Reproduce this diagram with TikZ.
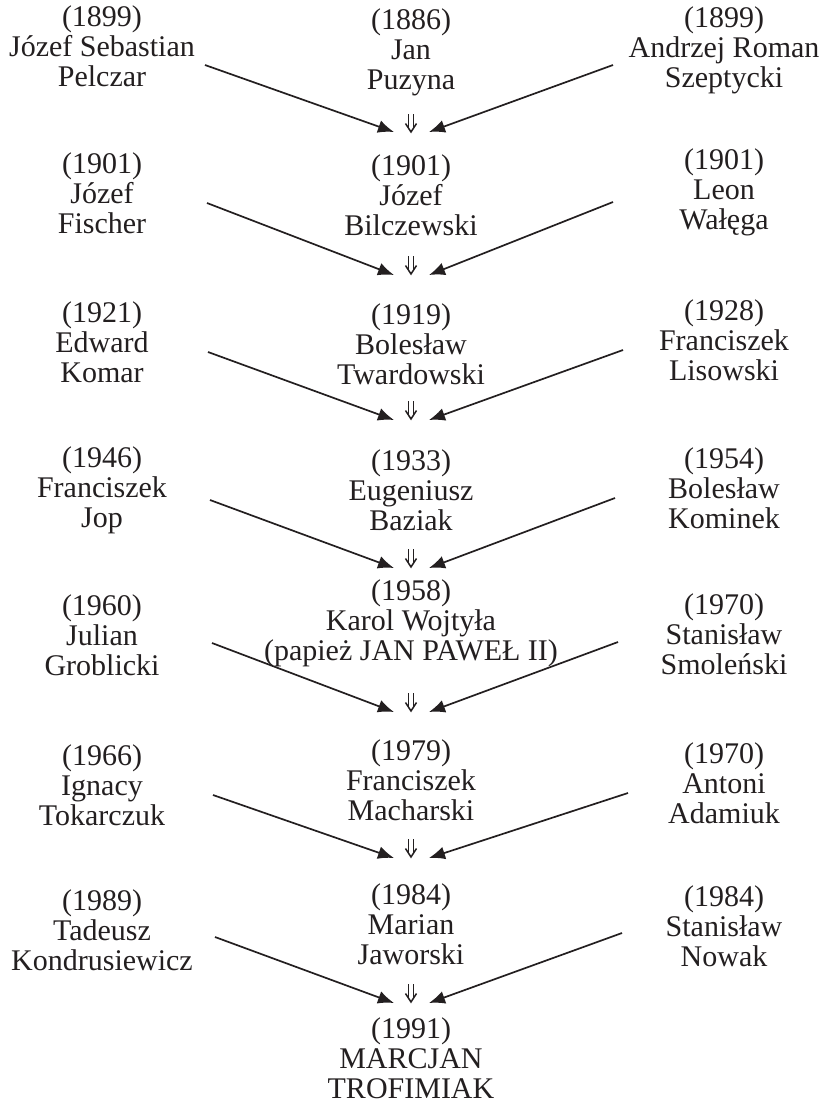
\documentclass[tikz,border=0pt]{standalone}
\usepackage{fontspec}
\setmainfont{Liberation Serif}
\usetikzlibrary{arrows.meta}
\definecolor{ink}{HTML}{231F20}
\begin{document}
\begin{tikzpicture}[x=1pt,y=-1pt,
  person/.style={align=center, inner sep=0pt, text=ink,
    font=\fontsize{30}{30}\selectfont},
  link/.style={draw=ink, line width=1.7pt,
    -{Latex[length=16pt,width=13pt]}},
  % a small double arrow pointing down
  succ/.pic={
    \draw[ink, line width=1.3pt] (-2.2,-9) -- (-2.2,5.5) (2.2,-9) -- (2.2,5.5);
    \draw[ink, line width=1.5pt, line join=miter] (-5.5,0.5) -- (0,9) -- (5.5,0.5);
  }]
\useasboundingbox (0,0) rectangle (823,1104);

% centre column: the succession
\node[person] (c1) at (411,52)   {(1886)\\Jan\\Puzyna};
\node[person] (c2) at (411,195)  {(1901)\\Józef\\Bilczewski};
\node[person] (c3) at (411,344)  {(1919)\\Bolesław\\Twardowski};
\node[person] (c4) at (411,490)  {(1933)\\Eugeniusz\\Baziak};
\node[person] (c5) at (411,623)  {(1958)\\Karol Wojtyła\\(papież JAN PAWEŁ II)};
\node[person] (c6) at (411,780)  {(1979)\\Franciszek\\Macharski};
\node[person] (c7) at (411,924)  {(1984)\\Marian\\Jaworski};
\node[person] (c8) at (411,1058) {(1991)\\MARCJAN\\TROFIMIAK};

% left column
\node[person] (l1) at (102,46)  {(1899)\\Józef Sebastian\\Pelczar};
\node[person] (l2) at (102,193) {(1901)\\Józef\\Fischer};
\node[person] (l3) at (102,342) {(1921)\\Edward\\Komar};
\node[person] (l4) at (102,490) {(1946)\\Franciszek\\Jop};
\node[person] (l5) at (102,635) {(1960)\\Julian\\Groblicki};
\node[person] (l6) at (102,785) {(1966)\\Ignacy\\Tokarczuk};
\node[person] (l7) at (102,930) {(1989)\\Tadeusz\\Kondrusiewicz};

% right column
\node[person] (r1) at (724,50)  {(1899)\\Andrzej Roman\\Szeptycki};
\node[person] (r2) at (724,192) {(1901)\\Leon\\Wałęga};
\node[person] (r3) at (724,340) {(1928)\\Franciszek\\Lisowski};
\node[person] (r4) at (724,488) {(1954)\\Bolesław\\Kominek};
\node[person] (r5) at (724,634) {(1970)\\Stanisław\\Smoleński};
\node[person] (r6) at (724,783) {(1970)\\Antoni\\Adamiuk};
\node[person] (r7) at (724,926) {(1984)\\Stanisław\\Nowak};

% double arrows between successive names
\foreach \i/\y in {1/123,2/265,3/410,4/558,5/702,6/848,7/993}{
  \pic (d\i) at (411,\y) {succ};
}

% start and end points of the slanted arrows
\foreach \i/\ys/\yr/\yt/\xl/\xr in {1/65/65/132/205/613, 2/203/202/275/207/613,
    3/352/350/420/208/623, 4/500/498/568/210/615, 5/643/642/712/212/618,
    6/795/793/858/213/628, 7/937/933/1003/215/622}{
  \coordinate (ls\i) at (\xl,\ys);
  \coordinate (rs\i) at (\xr,\yr);
  \coordinate (lt\i) at (394,\yt);
  \coordinate (rt\i) at (429,\yt);
}

\foreach \i in {1,...,7}{
  \draw[link] (ls\i) -- (lt\i);
  \draw[link] (rs\i) -- (rt\i);
}
\end{tikzpicture}
\end{document}
